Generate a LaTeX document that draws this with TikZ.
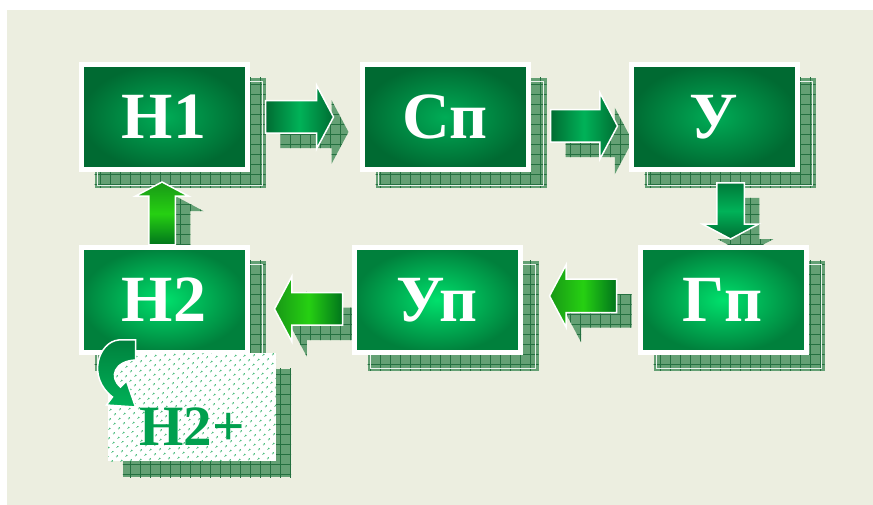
\documentclass[tikz,border=0pt]{standalone}
\usepackage{fontspec}
\setmainfont{Liberation Serif}
\usetikzlibrary{positioning, shapes.arrows, shadows, patterns.meta, backgrounds}
\definecolor{BgBeige}{RGB}{236,238,224}
\definecolor{ShadowGreen}{RGB}{100,160,116}
\definecolor{GridGreen}{RGB}{36,112,64}
\definecolor{TopLight}{RGB}{0,172,86}
\definecolor{TopDark}{RGB}{0,106,50}
\definecolor{BotLight}{RGB}{0,224,108}
\definecolor{BotDark}{RGB}{0,128,60}
\definecolor{ArrLight}{RGB}{0,178,88}
\definecolor{ArrDark}{RGB}{0,108,50}
\definecolor{LimeLight}{RGB}{38,208,18}
\definecolor{LimeMid}{RGB}{24,152,22}
\definecolor{LimeDark}{RGB}{0,116,28}
\definecolor{DotGreen}{RGB}{40,176,100}
\definecolor{PlusGreen}{RGB}{0,160,78}

\begin{document}
\begin{tikzpicture}[x=1pt, y=1pt,
        stagebox/.style={
            draw=white, line width=5pt, minimum width=166pt, minimum height=105pt,
            inner sep=0pt, text=white, font=\fontsize{66}{66}\selectfont\bfseries
        },
        toprow/.style={inner color=TopLight, outer color=TopDark},
        botrow/.style={inner color=BotLight, outer color=BotDark},
        extrabox/.style={
            minimum width=168pt, minimum height=108pt, inner sep=0pt, fill=white,
            postaction={pattern={Dots[distance=6.5pt, angle=45, radius=1.1pt]}, pattern color=DotGreen},
            text=PlusGreen, font=\fontsize{57}{57}\selectfont\bfseries,
            text height=76pt, text depth=0pt
        },
        boxshadow/.style={
            fill=ShadowGreen,
            postaction={pattern={Lines[distance=10pt, angle=0, line width=1pt]}, pattern color=GridGreen},
            postaction={pattern={Lines[distance=10pt, angle=90, line width=1pt]}, pattern color=GridGreen}
        },
        shadowline/.style={draw=white!85!ShadowGreen, line width=0.9pt},
        blockarrow/.style={
            single arrow, draw=white, line width=1.5pt, outer sep=0pt,
            single arrow tip angle=124, anchor=tail,
            general shadow={fill=ShadowGreen, shadow xshift=15pt, shadow yshift=-15pt},
            general shadow={pattern={Lines[distance=10pt, angle=0, line width=1pt]},
                pattern color=GridGreen, shadow xshift=15pt, shadow yshift=-15pt},
            general shadow={pattern={Lines[distance=10pt, angle=90, line width=1pt]},
                pattern color=GridGreen, shadow xshift=15pt, shadow yshift=-15pt}
        },
        bendarrow/.style={draw=white, line width=1.5pt, top color=ArrDark!70!ArrLight, bottom color=ArrLight}
    ]
    \useasboundingbox (0,0) rectangle (873,505);
    \begin{scope}[on background layer]
        \fill[white] (0,0) rectangle (873,505);
        \fill[BgBeige] (7,0) rectangle (873,495);
    \end{scope}

    % top row of boxes
    \node[stagebox, toprow] (n1) at (164,388) {Н1};
    \node[stagebox, toprow, right=110pt of n1] (sp) {Сп};
    \node[stagebox, toprow, right=98pt of sp] (u) {У};

    % bottom row of boxes
    \node[stagebox, botrow, below=73pt of n1] (n2) {Н2};
    \node[stagebox, botrow, right=102pt of n2] (up) {Уп};
    \node[stagebox, botrow, right=115pt of up] (gp) {Гп};

    % extra box under Н2
    \node[extrabox, below=-2pt of n2, xshift=28pt] (n2p) {Н2+};

    \begin{scope}[on background layer]
        % grid shadows of the boxes
        \foreach \n in {n1,sp,u,n2,up,gp}{
            \path[boxshadow] ([shift={(16pt,-16pt)}]\n.south west) rectangle ([shift={(16pt,-16pt)}]\n.north east);
            \draw[shadowline] ([shift={(19pt,-13pt)}]\n.south west) rectangle ([shift={(13pt,-19pt)}]\n.north east);
        }
        \path[boxshadow] ([shift={(15pt,-16pt)}]n2p.south west) rectangle ([shift={(15pt,-16pt)}]n2p.north east);

        % block arrows between the boxes
        \node[blockarrow, minimum height=68pt, inner sep=15.5pt, single arrow head extend=15.5pt,
            left color=ArrDark, right color=ArrDark, middle color=ArrLight]
            (a12) at ([xshift=16pt]n1.east) {};
        \node[blockarrow, minimum height=67pt, inner sep=15.5pt, single arrow head extend=17pt,
            left color=ArrDark, right color=ArrDark, middle color=ArrLight]
            (a23) at ([xshift=20pt, yshift=-9pt]sp.east) {};
        \node[blockarrow, shape border rotate=270, minimum height=56pt, inner sep=13pt, single arrow head extend=14pt,
            top color=ArrDark!80!ArrLight, bottom color=ArrDark, middle color=ArrLight]
            (a34) at ([xshift=16.5pt, yshift=-11pt]u.south) {};
        \node[blockarrow, shape border rotate=180, minimum height=67pt, inner sep=16pt, single arrow head extend=14.5pt,
            left color=LimeMid, right color=LimeDark, middle color=LimeLight]
            (a45) at ([xshift=-21pt, yshift=4pt]gp.west) {};
        \node[blockarrow, shape border rotate=180, minimum height=68pt, inner sep=15.5pt, single arrow head extend=16.5pt,
            left color=LimeMid, right color=LimeDark, middle color=LimeLight]
            (a56) at ([xshift=-9pt, yshift=-9pt]up.west) {};
        \node[blockarrow, shape border rotate=90, minimum height=63pt, inner sep=12.5pt, single arrow head extend=13.5pt,
            top color=LimeMid, bottom color=LimeDark, middle color=LimeLight]
            (a61) at ([xshift=-2pt]n2.north) {};
    \end{scope}

    % bent arrow from Н2 down to Н2+
    \begin{scope}[shift={(n2.south west)}]
        \draw[bendarrow] (57,15) -- (40,15) .. controls (20,13) and (8,-22) .. (34,-42)
            -- (28,-50) -- (57,-52) -- (48,-26) -- (42,-32)
            .. controls (30,-22) and (36,-6) .. (57,-5) -- cycle;
    \end{scope}
\end{tikzpicture}
\end{document}
